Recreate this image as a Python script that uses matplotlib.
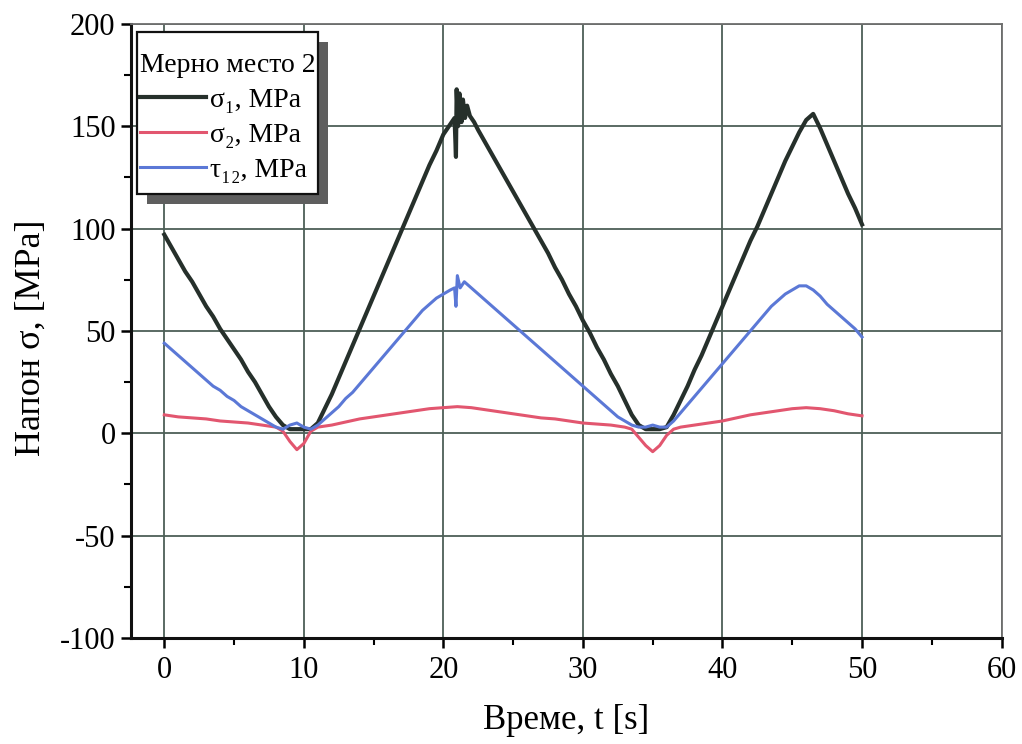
import matplotlib
matplotlib.use("Agg")
import matplotlib.pyplot as plt
from matplotlib.patches import Rectangle
from matplotlib.ticker import MultipleLocator

# Measurement point 2: principal stresses and shear stress over time
t_sigma1 = [0, 0.5, 1, 1.5, 2, 2.5, 3, 3.5, 4, 4.5, 5, 5.5, 6, 6.5, 7, 7.5, 8, 8.5,
            9, 9.5, 10, 10.5, 11, 11.5, 12, 12.5, 13, 13.5, 14, 14.5, 15, 15.5, 16,
            16.5, 17, 17.5, 18, 18.5, 19, 19.5, 20, 20.4, 20.8, 20.9, 20.95, 21.05,
            21.15, 21.3, 21.4, 21.55, 21.7, 21.9, 22.2, 22.5, 23, 23.5, 24, 24.5,
            25, 25.5, 26, 26.5, 27, 27.5, 28, 28.5, 29, 29.5, 30, 30.5, 31, 31.5,
            32, 32.5, 33, 33.5, 34, 34.5, 35, 35.5, 36, 36.5, 37, 37.5, 38, 38.5,
            39, 39.5, 40, 40.5, 41, 41.5, 42, 42.5, 43, 43.5, 44, 44.5, 45, 45.5,
            46, 46.5, 47, 47.5, 48, 48.5, 49, 49.5, 50]
sigma1 = [97, 91, 85, 79, 74, 68, 62, 57, 51, 46, 41, 36, 30, 25, 19, 13, 8, 4,
          2, 2, 2, 2, 5, 12, 19, 27, 35, 43, 51, 59, 67, 75, 83,
          91, 99, 107, 115, 123, 131, 138, 146, 150, 154, 135, 168, 150,
          166, 152, 163, 154, 160, 155, 152, 148, 142, 136, 130, 124,
          118, 112, 106, 100, 94, 88, 81, 75, 68, 62, 55, 49, 42, 36,
          29, 23, 16, 9, 4, 2, 2, 2, 3, 9, 16, 23, 31, 38,
          46, 54, 62, 70, 78, 86, 94, 101, 109, 117, 125, 133, 140, 147,
          153, 156, 149, 141, 133, 125, 117, 110, 102]

t_sigma2 = [0, 1, 2, 3, 4, 5, 6, 7, 8, 8.5, 9, 9.5, 10, 10.5, 11, 12, 13, 14, 15,
            16, 17, 18, 19, 20, 21, 22, 23, 24, 25, 26, 27, 28, 29, 30, 31, 32,
            33, 33.5, 34, 34.5, 35, 35.5, 36, 36.5, 37, 38, 39, 40, 41, 42, 43,
            44, 45, 46, 47, 48, 49, 50]
sigma2 = [9, 8, 7.5, 7, 6, 5.5, 5, 4, 3, 1, -4, -8, -5, 1, 3, 4, 5.5, 7, 8,
          9, 10, 11, 12, 12.5, 13, 12.5, 11.5, 10.5, 9.5, 8.5, 7.5, 7, 6, 5, 4.5, 4,
          3, 2, -2, -6, -9, -6, -1, 2, 3, 4, 5, 6, 7.5, 9, 10,
          11, 12, 12.5, 12, 11, 9.5, 8.5]

t_tau12 = [0, 0.5, 1, 1.5, 2, 2.5, 3, 3.5, 4, 4.5, 5, 5.5, 6, 6.5, 7, 7.5, 8, 8.5,
           9, 9.5, 10, 10.5, 11, 11.5, 12, 12.5, 13, 13.5, 14, 14.5, 15, 15.5, 16,
           16.5, 17, 17.5, 18, 18.5, 19, 19.5, 20, 20.5, 20.8, 20.9, 21.0, 21.2,
           21.5, 22, 22.5, 23, 23.5, 24, 24.5, 25, 25.5, 26, 26.5, 27, 27.5, 28,
           28.5, 29, 29.5, 30, 30.5, 31, 31.5, 32, 32.5, 33, 33.5, 34, 34.5, 35,
           35.5, 36, 36.5, 37, 37.5, 38, 38.5, 39, 39.5, 40, 40.5, 41, 41.5, 42,
           42.5, 43, 43.5, 44, 44.5, 45, 45.5, 46, 46.5, 47, 47.5, 48, 48.5, 49,
           49.5, 50]
tau12 = [44, 41, 38, 35, 32, 29, 26, 23, 21, 18, 16, 13, 11, 9, 7, 5, 3, 2,
         4, 5, 3, 2, 4, 7, 10, 13, 17, 20, 24, 28, 32, 36, 40,
         44, 48, 52, 56, 60, 63, 66, 68, 70, 71, 62, 77, 71,
         74, 71, 68, 65, 62, 59, 56, 53, 50, 47, 44, 41, 38, 35,
         32, 29, 26, 23, 20, 17, 14, 11, 8, 6, 4, 3, 3, 4,
         3, 3, 6, 10, 14, 18, 22, 26, 30, 34, 38, 42, 46, 50,
         54, 58, 62, 65, 68, 70, 72, 72, 70, 67, 63, 60, 57, 54,
         51, 47]

series_labels = ["σ\u2081, MPa", "σ\u2082, MPa", "τ\u2081\u2082, MPa"]
legend_title = "Мерно место 2"
x_label = "Време, t [s]"
y_label = "Напон σ, [MPa]"

plt.rcParams["font.family"] = ["Liberation Serif", "DejaVu Serif"]
plt.rcParams["axes.unicode_minus"] = False

fig = plt.figure(figsize=(10.22, 7.44), dpi=100)
ax = fig.add_axes([0.128, 0.1425, 0.852, 0.8255])

grid_color = "#4d5f57"
ax.grid(True, which="major", color=grid_color, linewidth=1.3)
ax.set_axisbelow(True)

ax.plot(t_sigma1, sigma1, color="#26302b", linewidth=3.0, label=series_labels[0], zorder=3)
ax.plot(t_sigma2, sigma2, color="#e2566f", linewidth=2.2, label=series_labels[1], zorder=3)
ax.plot(t_tau12, tau12, color="#5b78d6", linewidth=2.2, label=series_labels[2], zorder=3)

ax.set_xlim(-2.4, 60)
ax.set_ylim(-100, 200)
ax.xaxis.set_major_locator(MultipleLocator(10))
ax.xaxis.set_minor_locator(MultipleLocator(5))
ax.yaxis.set_major_locator(MultipleLocator(50))
ax.yaxis.set_minor_locator(MultipleLocator(25))

ax.tick_params(which="major", direction="out", length=7, width=1.8, labelsize=22, pad=4)
ax.tick_params(axis="x", which="major", pad=6)
ax.tick_params(which="minor", direction="out", length=5, width=1.5)
ax.tick_params(axis="x", which="both", top=False)
ax.tick_params(axis="y", which="both", right=False)

for side in ("left", "bottom"):
    ax.spines[side].set_linewidth(2.2)
    ax.spines[side].set_color("#111111")
for side in ("top", "right"):
    ax.spines[side].set_linewidth(1.3)
    ax.spines[side].set_color("#6e6e6e")

ax.set_xlabel(x_label, fontsize=25, labelpad=14)
ax.set_ylabel(y_label, fontsize=26)
ax.yaxis.set_label_coords(-0.095, 0.489)

leg = ax.legend(title=legend_title, loc="upper left", bbox_to_anchor=(0.010, 0.952),
                fontsize=20, title_fontsize=20, frameon=False,
                handlelength=2.4, handletextpad=0.15, borderpad=0.0,
                labelspacing=0.34, borderaxespad=0.0, alignment="left")
leg.set_zorder(7)

# Framed box with a drop shadow around the legend contents
fig.canvas.draw()
bb = leg.get_window_extent()
fx0, fx1 = bb.x0 - 3, bb.x1 + 3
fy0, fy1 = bb.y0 - 11, bb.y1 + 21
shadow = Rectangle((fx0 + 10, fy0 - 10), fx1 - fx0, fy1 - fy0, transform=None,
                   facecolor="#5e5e5e", edgecolor="none", zorder=5.5)
box = Rectangle((fx0, fy0), fx1 - fx0, fy1 - fy0, transform=None,
                facecolor="white", edgecolor="#111111", linewidth=1.6, zorder=6)
ax.add_artist(shadow)
ax.add_artist(box)

fig.savefig("out.png", dpi=100)
